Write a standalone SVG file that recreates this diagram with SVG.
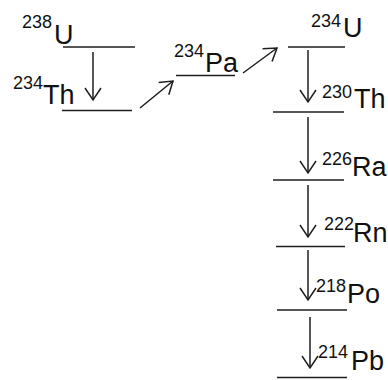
<svg xmlns="http://www.w3.org/2000/svg" width="388" height="380" viewBox="0 0 388 380">
  <style>
    .lvl { stroke: #1e1e1e; stroke-width: 1.7; fill: none; }
    .arr { stroke: #1e1e1e; stroke-width: 1.5; fill: none; marker-end: url(#head); }
    .el  { font-family: "Liberation Sans", Arial, sans-serif; font-size: 27px; fill: #111; }
    .mass { font-family: "Liberation Sans", Arial, sans-serif; font-size: 18px; fill: #111; }
  </style>
  <defs>
    <marker id="head" markerUnits="userSpaceOnUse" viewBox="-14 -10 16 20" refX="0" refY="0" markerWidth="16" markerHeight="20" orient="auto">
      <path d="M-12,-8 L0,0 L-12,8" fill="none" stroke="#1e1e1e" stroke-width="1.5"/>
    </marker>
  </defs>

  <rect width="388" height="380" fill="#fff"/>

  <!-- energy levels and nuclide labels -->
  <g id="u238">
    <line class="lvl" x1="63" y1="47" x2="135" y2="47"/>
    <text class="mass" x="22" y="28">238</text>
    <text class="el" x="54" y="44">U</text>
  </g>
  <g id="th234">
    <line class="lvl" x1="62" y1="110.5" x2="132" y2="110.5"/>
    <text class="mass" x="13" y="89">234</text>
    <text class="el" x="43" y="104">Th</text>
  </g>
  <g id="pa234">
    <line class="lvl" x1="176" y1="75.5" x2="235" y2="75.5"/>
    <text class="mass" x="174" y="57">234</text>
    <text class="el" x="205" y="72">Pa</text>
  </g>
  <g id="u234">
    <line class="lvl" x1="288" y1="47" x2="345" y2="47"/>
    <text class="mass" x="311" y="27">234</text>
    <text class="el" x="343" y="37">U</text>
  </g>
  <g id="th230">
    <line class="lvl" x1="273" y1="112" x2="344" y2="112"/>
    <text class="mass" x="322" y="98">230</text>
    <text class="el" x="354" y="108">Th</text>
  </g>
  <g id="ra226">
    <line class="lvl" x1="273" y1="180" x2="344" y2="180"/>
    <text class="mass" x="322" y="165">226</text>
    <text class="el" x="352" y="176">Ra</text>
  </g>
  <g id="rn222">
    <line class="lvl" x1="276" y1="246.5" x2="345" y2="246.5"/>
    <text class="mass" x="324" y="230">222</text>
    <text class="el" x="353" y="242">Rn</text>
  </g>
  <g id="po218">
    <line class="lvl" x1="277" y1="310" x2="347" y2="310"/>
    <text class="mass" x="316" y="292">218</text>
    <text class="el" x="347" y="303">Po</text>
  </g>
  <g id="pb214">
    <line class="lvl" x1="277" y1="377.5" x2="347" y2="377.5"/>
    <text class="mass" x="318" y="358">214</text>
    <text class="el" x="351" y="370">Pb</text>
  </g>

  <!-- decay transitions -->
  <g id="connectors">
    <line class="arr" x1="93" y1="52" x2="93" y2="100"/>
    <line class="arr" x1="140" y1="108" x2="173" y2="81"/>
    <line class="arr" x1="243" y1="73" x2="277" y2="48"/>
    <line class="arr" x1="308" y1="50" x2="308" y2="102"/>
    <line class="arr" x1="308" y1="117" x2="308" y2="173"/>
    <line class="arr" x1="308" y1="185" x2="308" y2="237"/>
    <line class="arr" x1="308" y1="250" x2="308" y2="300"/>
    <line class="arr" x1="310" y1="317" x2="310" y2="368"/>
  </g>
</svg>
